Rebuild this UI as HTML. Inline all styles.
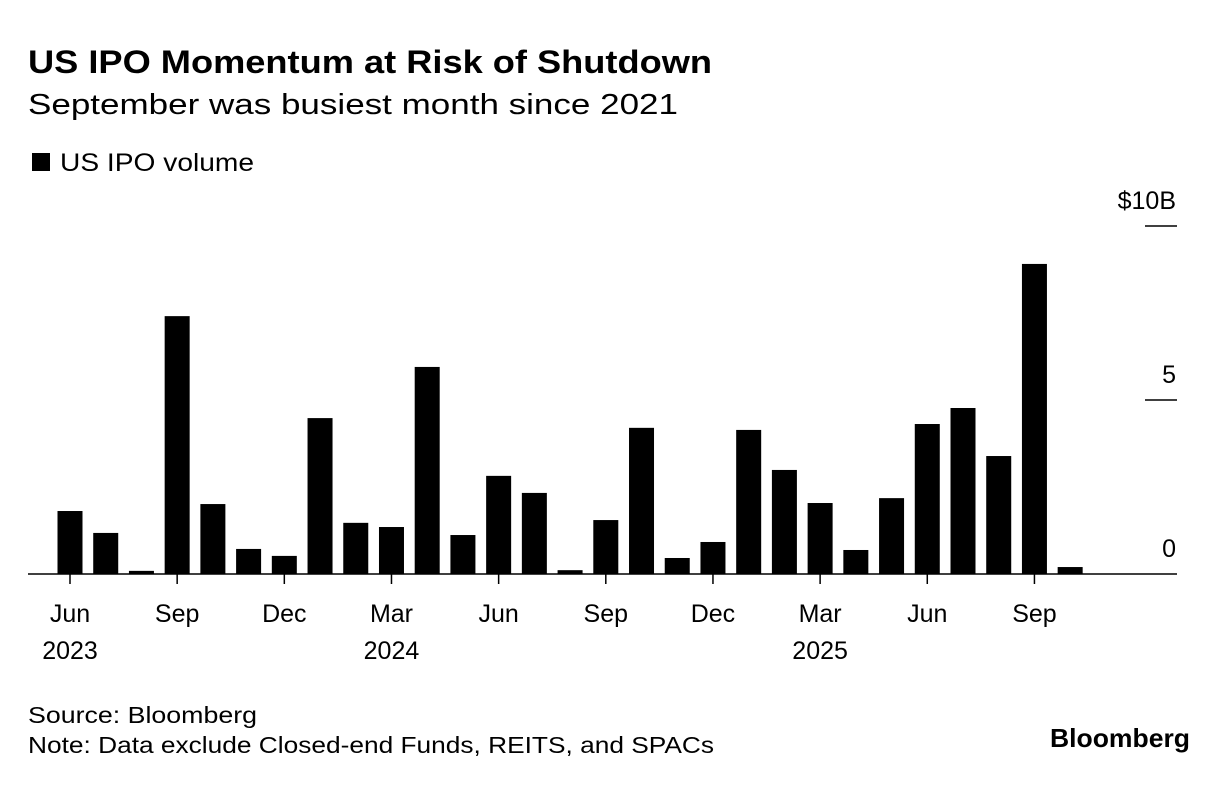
<!DOCTYPE html>
<html><head><meta charset="utf-8"><style>
body{margin:0;background:#fff;font-family:"Liberation Sans",sans-serif;color:#000}
</style></head><body>
<svg width="1230" height="782" xmlns="http://www.w3.org/2000/svg">
<text x="28" y="73" font-size="32" font-weight="bold" textLength="684" lengthAdjust="spacingAndGlyphs">US IPO Momentum at Risk of Shutdown</text>
<text x="28" y="114" font-size="29" textLength="650" lengthAdjust="spacingAndGlyphs">September was busiest month since 2021</text>
<rect x="32" y="153" width="18" height="18" fill="#000"/>
<text x="60" y="171" font-size="25" textLength="194" lengthAdjust="spacingAndGlyphs">US IPO volume</text>
<g id="plot"></g>
<text x="28" y="723" font-size="23" textLength="229" lengthAdjust="spacingAndGlyphs">Source: Bloomberg</text>
<text x="28" y="753" font-size="23" textLength="686" lengthAdjust="spacingAndGlyphs">Note: Data exclude Closed-end Funds, REITS, and SPACs</text>
<text x="1050" y="747" font-size="26" font-weight="bold" textLength="140" lengthAdjust="spacingAndGlyphs">Bloomberg</text>
</svg>
<script>
const values=[1.81,1.18,0.09,7.41,2.01,0.72,0.52,4.48,1.47,1.35,5.95,1.12,2.82,2.33,0.11,1.55,4.20,0.46,0.92,4.14,2.99,2.04,0.69,2.18,4.31,4.77,3.39,8.91,0.20];
const yTicks=[0,5,10];
const yTickLabels=["0","5","$10B"];
const xLabelIdx=[0,3,6,9,12,15,18,21,24,27];
const xLabels=["Jun","Sep","Dec","Mar","Jun","Sep","Dec","Mar","Jun","Sep"];
const yearIdx=[0,9,21];
const yearLabels=["2023","2024","2025"];
const NS="http://www.w3.org/2000/svg";
const g=document.getElementById('plot');
const y0=574,pxPer=34.8,x0=70,step=35.72,bw=25;
const yS=v=>y0-v*pxPer, xS=i=>x0+i*step;
function mk(t,a){const e=document.createElementNS(NS,t);for(const k in a)e.setAttribute(k,a[k]);g.appendChild(e);return e;}
values.forEach((v,i)=>{const r=mk('rect',{x:xS(i)-bw/2,y:yS(v),width:bw,height:v*pxPer,fill:'#000'});

});
const base=mk('line',{x1:28,x2:1177,y1:y0,y2:y0,stroke:'#000','stroke-width':1.5});


yTicks.forEach((t,i)=>{
 if(t>0){const l=mk('line',{x1:1145,x2:1177,y1:yS(t),y2:yS(t),stroke:'#000','stroke-width':1.5});
 
 }
 const tx=mk('text',{x:1176,y:yS(t)-17,'font-size':25,'text-anchor':'end'});tx.textContent=yTickLabels[i];
 
 
});
xLabelIdx.forEach((idx,i)=>{
 const l=mk('line',{x1:xS(idx),x2:xS(idx),y1:y0,y2:y0+10,stroke:'#000','stroke-width':1.5});
 
 
 const tx=mk('text',{x:xS(idx),y:622,'font-size':25,'text-anchor':'middle'});tx.textContent=xLabels[i];
 
 
});
yearIdx.forEach((idx,i)=>{
 const tx=mk('text',{x:xS(idx),y:659,'font-size':25,'text-anchor':'middle'});tx.textContent=yearLabels[i];
 
 
});
</script>
</body></html>
